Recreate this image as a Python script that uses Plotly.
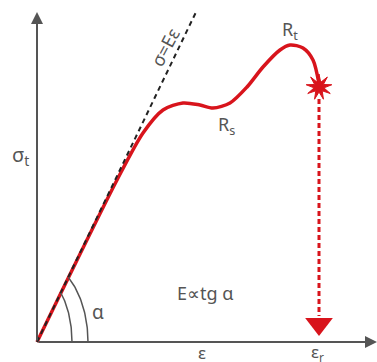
import numpy as np
import plotly.graph_objects as go

# ---- data (conceptual stress-strain curve, arbitrary units) ----
strain = [0, 80, 106, 126, 146, 163, 176, 193, 210, 226, 243, 253, 266, 276, 282]
stress = [0, 162, 209, 232, 239, 237, 234, 239, 255, 275, 292, 297, 294, 282, 258]
hooke_x = [0, 160]
hooke_y = [0, 332]
rupture_strain = 282
rupture_stress = 255
axis_labels = {"x": "ε", "y": "σ<sub>t</sub>"}

RED = "#d8141c"
GRAY = "#555555"
FONT = "Noto Sans"

fig = go.Figure()

# main curve
fig.add_trace(go.Scatter(x=strain, y=stress, mode="lines",
                         line=dict(color=RED, width=3.5, shape="spline", smoothing=0.8),
                         hoverinfo="skip"))
# Hooke line (drawn over the curve)
fig.add_trace(go.Scatter(x=hooke_x, y=hooke_y, mode="lines",
                         line=dict(color="#222222", width=2, dash="5px,4px"),
                         hoverinfo="skip"))

# angle arcs (elliptical due to non-uniform scaling)
for rx, ry in [(35, 67), (51, 82)]:
    tend = np.arctan2(2.075 * rx, ry)
    t = np.linspace(0, tend, 40)
    fig.add_trace(go.Scatter(x=rx * np.cos(t), y=ry * np.sin(t), mode="lines",
                             line=dict(color=GRAY, width=1.5), hoverinfo="skip"))

# rupture drop line
fig.add_trace(go.Scatter(x=[rupture_strain, rupture_strain], y=[rupture_stress - 12, 26],
                         mode="lines", line=dict(color=RED, width=3, dash="5px,3px"),
                         hoverinfo="skip"))
fig.add_trace(go.Scatter(x=[rupture_strain], y=[18], mode="markers",
                         marker=dict(symbol="triangle-down", size=24, color=RED),
                         hoverinfo="skip"))

# rupture star (polygon)
n = 9
ang = np.linspace(0, 2 * np.pi, 2 * n + 1) + np.pi / 2
rad = np.where(np.arange(2 * n + 1) % 2 == 0, 13, 5)
fig.add_trace(go.Scatter(x=rupture_strain + rad * np.cos(ang),
                         y=rupture_stress + rad * np.sin(ang),
                         mode="lines", fill="toself", fillcolor=RED,
                         line=dict(color=RED, width=1), hoverinfo="skip"))

# axes with arrows
fig.add_annotation(x=0, y=330, ax=0, ay=0, xref="x", yref="y", axref="x", ayref="y",
                   showarrow=True, arrowhead=2, arrowsize=1.2, arrowwidth=2,
                   arrowcolor=GRAY, text="")
fig.add_annotation(x=340, y=0, ax=0, ay=0, xref="x", yref="y", axref="x", ayref="y",
                   showarrow=True, arrowhead=2, arrowsize=1.2, arrowwidth=2,
                   arrowcolor=GRAY, text="")

def label(x, y, text, size=18, angle=0):
    fig.add_annotation(x=x, y=y, text=text, showarrow=False, textangle=angle,
                       font=dict(family=FONT, size=size, color=GRAY))

label(-17, 187, axis_labels["y"], 20)
label(165, -10, axis_labels["x"], 17)
label(280, -10, "ε<sub>r</sub>", 17)
label(253, 312, "R<sub>t</sub>", 18)
label(189, 217, "R<sub>s</sub>", 18)
label(61, 30, "α", 19)
label(168, 49, "E∝tg α", 18)
label(128, 295, "σ=Eε", 18, angle=-62)

fig.update_layout(width=377, height=362, margin=dict(l=0, r=0, t=0, b=0),
                  paper_bgcolor="white", plot_bgcolor="white", showlegend=False,
                  xaxis=dict(range=[-37, 340], visible=False, fixedrange=True),
                  yaxis=dict(range=[-20, 342], visible=False, fixedrange=True))
fig.write_html("out.html", config={"displayModeBar": False},
               post_script="document.body.style.margin='0';document.body.style.overflow='hidden';")
